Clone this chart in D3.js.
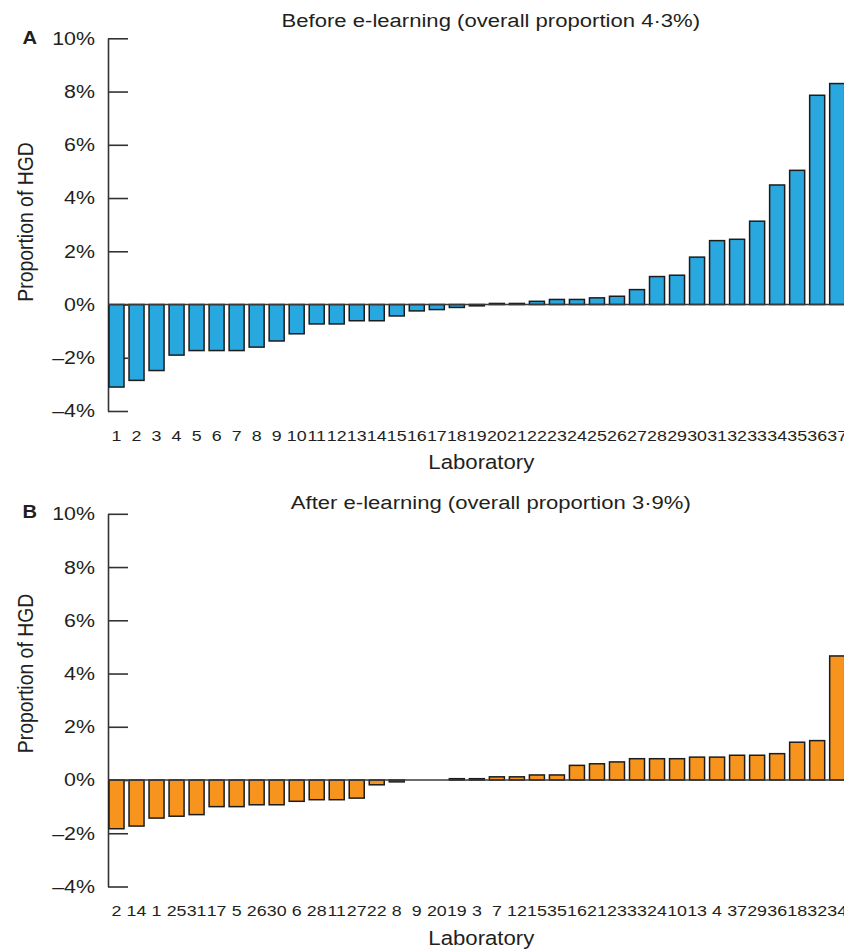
<!DOCTYPE html>
<html>
<head>
<meta charset="utf-8">
<script src="https://cdn.jsdelivr.net/npm/d3@7"></script>
<style>
  body { margin: 0; background: #fff; }
  svg { display: block; }
  text { font-family: "Liberation Sans", Arial, Helvetica, sans-serif; fill: #231f20; }
</style>
</head>
<body>
<svg id="fig" width="844" height="949"></svg>
<script>
// Laboratory order and deviation from the overall HGD proportion (percentage points)
const labsBefore = ["1","2","3","4","5","6","7","8","9","10","11","12","13","14","15","16","17","18","19",
                    "20","21","22","23","24","25","26","27","28","29","30","31","32","33","34","35","36","37"];
const valsBefore = [-3.10,-2.85,-2.48,-1.90,-1.73,-1.73,-1.73,-1.60,-1.37,-1.10,-0.73,-0.73,-0.61,-0.61,
                    -0.43,-0.24,-0.19,-0.11,-0.05,0.04,0.04,0.12,0.19,0.19,0.25,0.31,0.56,1.05,1.10,
                    1.78,2.40,2.45,3.13,4.49,5.04,7.86,8.30];

const labsAfter = ["2","14","1","25","31","17","5","26","30","6","28","11","27","22","8","9","20","19",
                   "3","7","12","15","35","16","21","23","33","24","10","13","4","37","29","36","18","32","34"];
const valsAfter = [-1.83,-1.73,-1.43,-1.36,-1.30,-1.00,-1.00,-0.93,-0.93,-0.80,-0.74,-0.74,-0.68,-0.18,
                   -0.07,0,0,0.05,0.05,0.12,0.12,0.19,0.19,0.55,0.61,0.68,0.80,0.80,0.80,0.86,0.86,
                   0.93,0.93,0.99,1.42,1.48,4.66];

const yTicks = [-4, -2, 0, 2, 4, 6, 8, 10];

const panels = [
  { letter: "A", title: "Before e-learning (overall proportion 4\u00b73%)",
    labels: labsBefore, values: valsBefore, fill: "#29a8e0" },
  { letter: "B", title: "After e-learning (overall proportion 3\u00b79%)",
    labels: labsAfter, values: valsAfter, fill: "#f7941e" }
];

// per-panel placement: vertical offset, title / letter / axis-label baselines
const layout = [
  { top: 0,     titleY: 26.7, letterY: 44.3, ylabY: 222 },
  { top: 475.5, titleY: 33.8, letterY: 42.8, ylabY: 198 }
];

const SX = 1.15;          // horizontal text stretch of the typeset figure
const axisX = 108;
const svg = d3.select("#fig");

const y = d3.scaleLinear().domain([-4, 10]).range([411, 38.3]);

panels.forEach((p, k) => {
  const L = layout[k];
  const g = svg.append("g").attr("transform", `translate(0,${L.top})`);

  const x = d3.scaleBand()
    .domain(p.labels)
    .range([106.5, 847.2])
    .paddingInner(0.25)
    .paddingOuter(0.125);

  // y axis with inward ticks
  const ya = g.append("g")
    .attr("transform", `translate(${axisX},0)`)
    .call(d3.axisLeft(y)
      .tickValues(yTicks)
      .tickSizeInner(-20)
      .tickSizeOuter(0)
      .tickPadding(13)
      .tickFormat(d => (d < 0 ? "\u2013" + (-d) : d) + "%"));
  ya.select(".domain").attr("stroke", "#333").attr("stroke-width", 1.6);
  ya.selectAll(".tick line").attr("stroke", "#333").attr("stroke-width", 1.6);
  ya.selectAll(".tick text")
    .attr("font-size", 18.6)
    .attr("font-family", null)
    .attr("fill", "#231f20")
    .attr("x", -13 / SX)
    .attr("transform", `scale(${SX},1)`);

  // bars
  g.append("g").selectAll("rect")
    .data(p.values.map((v, i) => ({ lab: p.labels[i], v })))
    .join("rect")
      .attr("x", d => x(d.lab))
      .attr("width", x.bandwidth())
      .attr("y", d => y(Math.max(0, d.v)))
      .attr("height", d => Math.abs(y(d.v) - y(0)))
      .attr("fill", p.fill)
      .attr("stroke", "#1c1c1c")
      .attr("stroke-width", 1.5);

  // zero reference line
  g.append("line")
    .attr("x1", axisX).attr("x2", 844)
    .attr("y1", y(0)).attr("y2", y(0))
    .attr("stroke", "#3a3a3a").attr("stroke-width", 1.6);

  // laboratory labels
  const xa = g.append("g")
    .attr("transform", "translate(0,440.7)")
    .call(d3.axisBottom(x).tickSize(0).tickPadding(0));
  xa.select(".domain").remove();
  xa.selectAll(".tick text")
    .attr("y", 0).attr("dy", 0)
    .attr("font-size", 15.5)
    .attr("font-family", null)
    .attr("fill", "#231f20")
    .attr("transform", `scale(${SX},1)`);

  // titles and labels
  g.append("text")
    .attr("transform", `translate(490.8,${L.titleY}) scale(${SX},1)`)
    .attr("text-anchor", "middle")
    .attr("font-size", 19.2)
    .text(p.title);

  g.append("text")
    .attr("transform", `translate(22.5,${L.letterY}) scale(${SX},1)`)
    .attr("font-size", 17.5)
    .attr("font-weight", "bold")
    .text(p.letter);

  g.append("text")
    .attr("transform", `translate(33,${L.ylabY}) scale(${SX},1) rotate(-90)`)
    .attr("text-anchor", "middle")
    .attr("font-size", 19.4)
    .text("Proportion of HGD");

  g.append("text")
    .attr("transform", `translate(481.3,469) scale(${SX},1)`)
    .attr("text-anchor", "middle")
    .attr("font-size", 19.3)
    .text("Laboratory");
});
</script>
</body>
</html>
